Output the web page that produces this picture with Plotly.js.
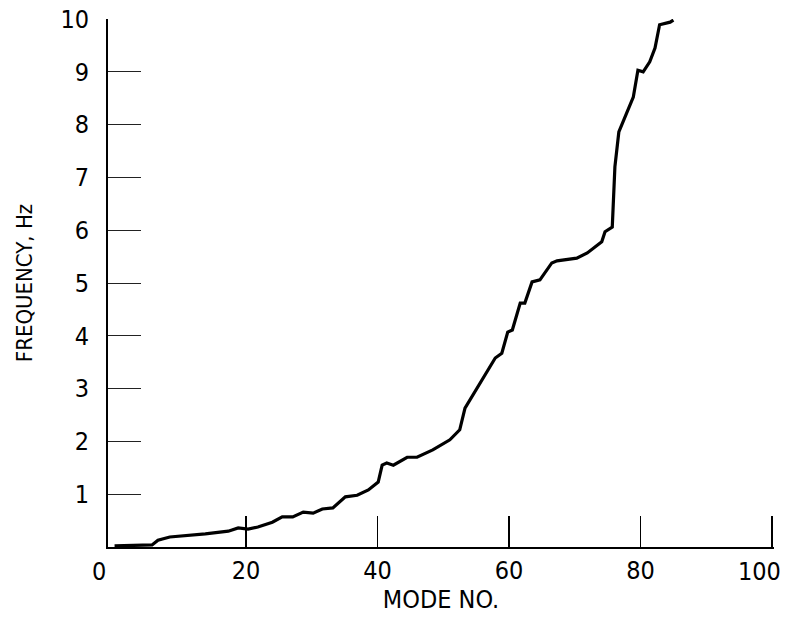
<!DOCTYPE html>
<html>
<head>
<meta charset="utf-8">
<script src="https://cdn.plot.ly/plotly-3.0.1.min.js"></script>
<style>html,body{margin:0;padding:0;background:#fff;}#chart{width:785px;height:618px;}</style>
</head>
<body>
<div id="chart"></div>
<script>
const modeNo = [0, 2, 5.7, 6.6, 8.4, 13.8, 17.3, 18.8, 20.3, 21.8, 24.0, 25.5, 27.1, 28.7, 30.2, 31.6, 33.2, 35.1, 36.9, 38.6, 40.1, 40.7, 41.4, 42.4, 44.5, 46.0, 48.4, 51.0, 52.5, 53.3, 54.5, 55.9, 57.4, 57.9, 58.9, 59.8, 60.5, 61.7, 62.4, 63.5, 64.7, 66.5, 67.3, 70.3, 71.9, 72.8, 74.1, 74.6, 75.7, 76.1, 76.7, 77.9, 78.9, 79.6, 80.4, 81.4, 82.2, 82.9, 84.5, 85.0];
const frequency = [0.02, 0.03, 0.04, 0.13, 0.19, 0.25, 0.30, 0.36, 0.34, 0.38, 0.47, 0.57, 0.57, 0.66, 0.64, 0.72, 0.74, 0.95, 0.98, 1.08, 1.23, 1.55, 1.59, 1.55, 1.70, 1.70, 1.84, 2.03, 2.22, 2.63, 2.88, 3.16, 3.48, 3.58, 3.67, 4.07, 4.11, 4.62, 4.62, 5.02, 5.06, 5.38, 5.42, 5.47, 5.57, 5.66, 5.78, 5.97, 6.06, 7.20, 7.86, 8.22, 8.52, 9.03, 9.00, 9.19, 9.45, 9.89, 9.94, 9.98];
const xTicks = [20, 40, 60, 80, 100];
const xTickText = ["20", "40", "60", "80", ""];
const yTicks = [1, 2, 3, 4, 5, 6, 7, 8, 9, 10];
const yTickText = ["1", "2", "3", "4", "5", "6", "7", "8", "9", "10"];

const FONT = "DejaVu Sans Condensed, Liberation Sans Narrow, sans-serif";

const trace = {
  x: modeNo, y: frequency, type: "scatter", mode: "lines",
  line: {color: "#000", width: 3.2, shape: "linear"},
  hoverinfo: "skip", showlegend: false
};

const layout = {
  width: 785, height: 618,
  margin: {l: 108, r: 11, t: 19, b: 71, pad: 0},
  paper_bgcolor: "#fff", plot_bgcolor: "#fff",
  font: {family: FONT, color: "#000", size: 25},
  showlegend: false,
  xaxis: {
    range: [-1, 100.3], showgrid: false, zeroline: false,
    showline: true, linecolor: "#000", linewidth: 2,
    ticks: "inside", ticklen: 31, tickwidth: 1.5, tickcolor: "#000",
    tickmode: "array", tickvals: xTicks, ticktext: xTickText,
    tickfont: {family: FONT, size: 25, color: "#000"},
    title: {text: "MODE NO.", font: {family: FONT, size: 25, color: "#000"}, standoff: 0},
    automargin: false, fixedrange: true
  },
  yaxis: {
    range: [0, 10], showgrid: false, zeroline: false,
    showline: true, linecolor: "#000", linewidth: 2,
    ticks: "inside", ticklen: 33, tickwidth: 1, tickcolor: "#222",
    tickmode: "array", tickvals: yTicks, ticktext: yTickText,
    tickfont: {family: FONT, size: 25, color: "#000"},
    ticklabelstandoff: 12,
    title: {text: "FREQUENCY, Hz", font: {family: FONT, size: 22, color: "#000"}, standoff: 22},
    automargin: false, fixedrange: true
  },
  annotations: [
    {xref: "paper", yref: "paper", x: -0.027, y: 0, text: "0", showarrow: false, yanchor: "top", yshift: -8,
     font: {family: FONT, size: 25, color: "#000"}},
    {xref: "paper", yref: "paper", x: 1.0135, y: 0, text: "100", showarrow: false, xanchor: "right", yanchor: "top", yshift: -8,
     font: {family: FONT, size: 25, color: "#000"}}
  ]
};

Plotly.newPlot("chart", [trace], layout, {staticPlot: true, displayModeBar: false});
</script>
</body>
</html>
